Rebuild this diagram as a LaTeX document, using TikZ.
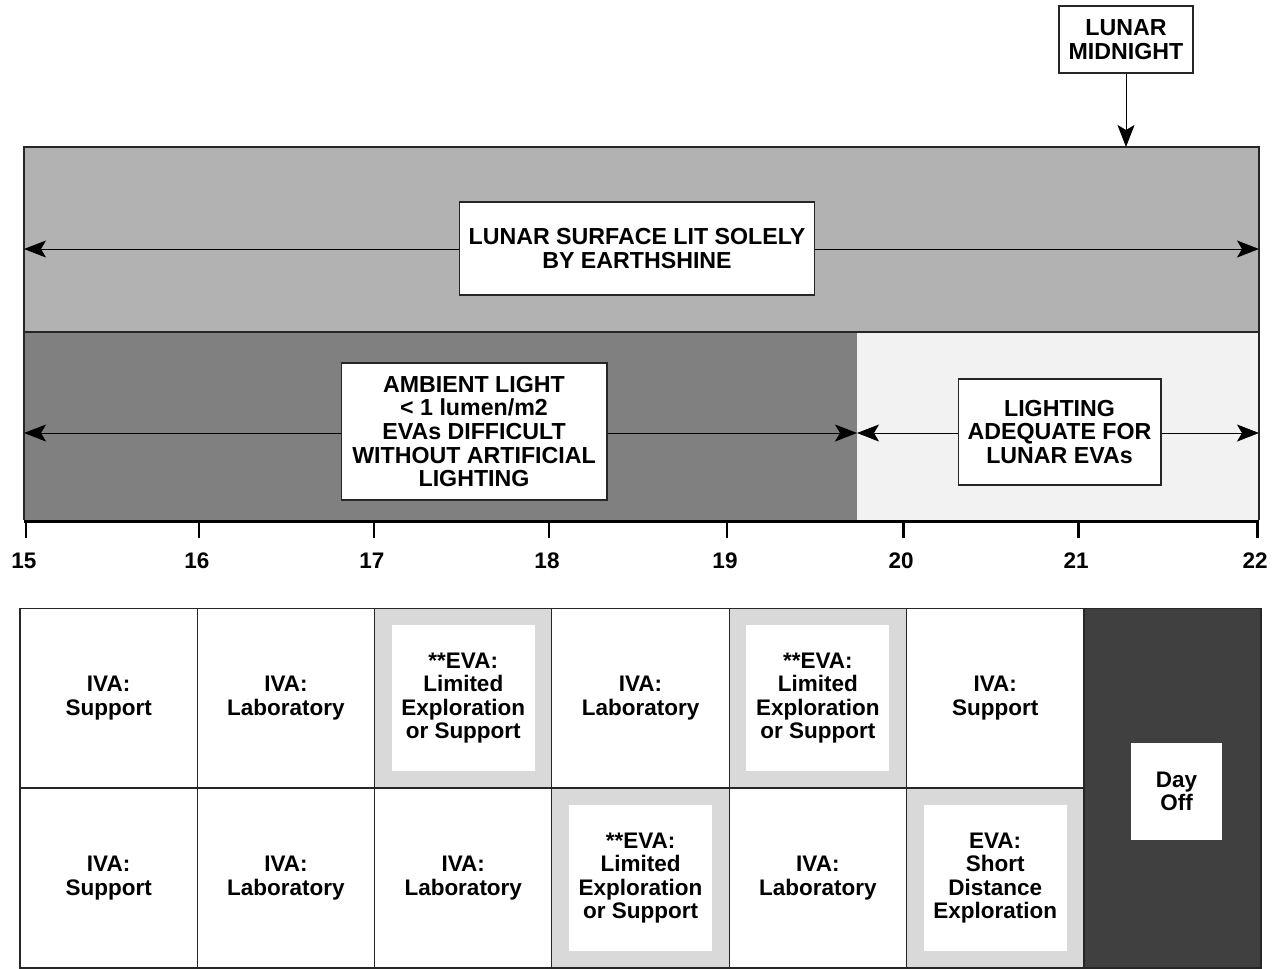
\documentclass[tikz,border=0pt]{standalone}
\usepackage{fontspec}
\setmainfont{Liberation Sans}
\usetikzlibrary{arrows.meta}

\begin{document}
\begin{tikzpicture}[x=0.02cm, y=-0.02cm,
        every node/.style={font=\bfseries\fontsize{12.8}{13.4}\selectfont, align=center, inner sep=0pt},
        textbox/.style={draw=black!85, fill=white, line width=0.6pt, font=\bfseries\fontsize{13.2}{13.4}\selectfont},
        span/.style={{Stealth[length=0.44cm, width=0.34cm, inset=0.1cm]}-{Stealth[length=0.44cm, width=0.34cm, inset=0.1cm]}, line width=0.5pt},
        cell/.style={draw=black!85, line width=0.6pt, minimum width=3.546cm, minimum height=3.6cm}]

            \useasboundingbox (0,0) rectangle (1272,968);

            % lighting bands
            \fill[black!30] (24,147) rectangle (1259,332);
            \fill[black!50] (24,332) rectangle (857,520);
            \fill[black!5]  (857,332) rectangle (1259,520);
            \draw[black!85, line width=0.6pt] (24,520) -- (24,147) -- (1259,147) -- (1259,520);
            \draw[black!85, line width=0.6pt] (24,332) -- (1259,332);

            \coordinate (eleft)  at (24,249);
            \coordinate (eright) at (1259,249);
            \coordinate (aleft)  at (24,433);
            \coordinate (amid)   at (857,433);
            \coordinate (aright) at (1259,433);
            \coordinate (midtop) at (1126,147);

            \draw[span] (eleft) -- (eright);
            \draw[span] (aleft) -- (amid);
            \draw[span] (amid) -- (aright);

            \node[textbox, minimum width=2.68cm, minimum height=1.34cm] (midnight) at (1126,39.5) {LUNAR\\MIDNIGHT};
            \draw[-{Stealth[length=0.44cm, width=0.34cm, inset=0.1cm]}, line width=0.5pt] (midnight) -- (midtop);

            \node[textbox, minimum width=7.12cm, minimum height=1.86cm] (earth) at (637,248.5)
                {LUNAR SURFACE LIT SOLELY\\BY EARTHSHINE};
            \node[textbox, minimum width=5.32cm, minimum height=2.74cm] (ambient) at (474,431.5)
                {AMBIENT LIGHT\\< 1 lumen/m2\\EVAs DIFFICULT\\WITHOUT ARTIFICIAL\\LIGHTING};
            \node[textbox, minimum width=4.06cm, minimum height=2.12cm] (adequate) at (1059.5,432)
                {LIGHTING\\ADEQUATE FOR\\LUNAR EVAs};

            % day axis
            \draw[line width=1.7pt] (24,521) -- (1259,521);
            \foreach \d/\x in {15/26, 16/199, 17/374, 18/549, 19/727, 20/903, 21/1078, 22/1257} {
                \draw[line width=1.7pt] (\x,521) -- (\x,538);
                \node (day\d) at (\x-2,561) {\d};
            }

            % schedule
            \foreach \r/\c/\shade/\txt in {
                1/1/white/{IVA:\\Support}, 1/2/white/{IVA:\\Laboratory},
                1/3/black!15/{**EVA:\\Limited\\Exploration\\or Support}, 1/4/white/{IVA:\\Laboratory},
                1/5/black!15/{**EVA:\\Limited\\Exploration\\or Support}, 1/6/white/{IVA:\\Support},
                2/1/white/{IVA:\\Support}, 2/2/white/{IVA:\\Laboratory},
                2/3/white/{IVA:\\Laboratory}, 2/4/black!15/{**EVA:\\Limited\\Exploration\\or Support},
                2/5/white/{IVA:\\Laboratory}, 2/6/black!15/{EVA:\\Short\\Distance\\Exploration}} {
                \node[cell, fill=\shade] (s\r\c) at ({20+177.3*(\c-0.5)},{608+180*(\r-0.5)}) {};
                \node[fill=white, minimum width=2.86cm, minimum height=2.92cm] (t\r\c) at (s\r\c) {\txt};
            }

            \node[cell, fill=black!75, minimum width=3.54cm, minimum height=7.2cm] (dayoff) at (1172.5,788) {};
            \node[fill=white, minimum width=1.82cm, minimum height=1.94cm] (offbox) at (1176.5,791.5) {Day\\Off};
        \end{tikzpicture}
\end{document}
